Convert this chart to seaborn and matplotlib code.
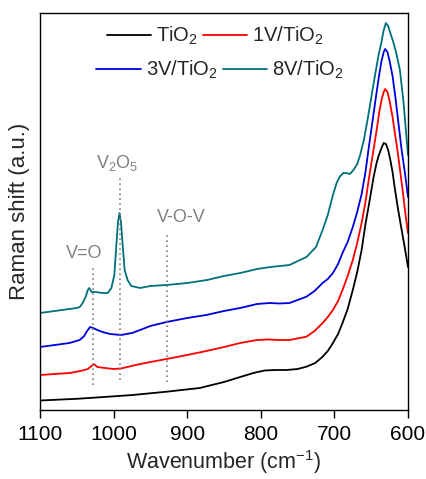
import matplotlib
matplotlib.use("Agg")
import matplotlib.pyplot as plt
import seaborn as sns
import pandas as pd

# ---- data ----
samples = ["TiO$\\mathregular{_2}$", "1V/TiO$\\mathregular{_2}$",
           "3V/TiO$\\mathregular{_2}$", "8V/TiO$\\mathregular{_2}$"]
colors = ["#000000", "#ff0000", "#0000dd", "#00707a"]

wn_tio2 = [1100, 1050, 1019, 974, 928, 883, 850, 828, 810, 795, 780, 765, 750, 738, 726,
           716, 709, 702, 695, 689, 682, 675, 669, 663, 658, 652, 647, 643, 640, 636, 633,
           630, 627, 624, 621, 618, 614, 611, 605, 600]
int_tio2 = [9.5, 11.2, 12.7, 15, 18.3, 22, 28, 33, 37, 39.5, 40, 40, 41, 43.3, 47,
            53.3, 59, 67, 76, 87, 101, 120, 138, 160, 185, 210, 232, 246, 254, 262, 267,
            266, 260, 250, 238, 222, 203, 190, 165, 143]

wn_1v = [1100, 1080, 1060, 1045, 1035, 1030, 1027, 1022, 1012, 1000, 990, 970, 950, 928,
         900, 874, 850, 828, 805, 790, 775, 761, 738, 727, 716, 709, 702, 695, 689, 682,
         675, 669, 663, 658, 654, 650, 646, 642, 639, 636, 633, 631, 628, 625, 621, 618,
         614, 611, 607, 604, 600]
int_1v = [35, 36, 37, 39, 41, 44, 46, 43, 42, 41, 41.5, 45, 48, 51,
          55, 59, 63, 67, 70, 70.5, 70, 70, 73.3, 79, 87, 93, 100, 109, 120, 134,
          150, 167, 187, 207, 227, 246, 264, 283, 298, 310, 318, 321, 318, 309, 293, 278,
          258, 241, 218, 199, 177]

wn_3v = [1100, 1080, 1060, 1046, 1040, 1036, 1032, 1028, 1022, 1015, 1005, 990, 975, 964,
         950, 928, 900, 874, 850, 828, 805, 788, 775, 761, 738, 727, 716, 709, 702, 695,
         689, 682, 675, 669, 663, 658, 653, 648, 643, 639, 636, 633, 631, 628, 625, 621,
         617, 613, 609, 604, 600]
int_3v = [63, 65, 67, 70, 74, 79, 83, 82, 80, 78, 76, 75, 77, 80,
          84, 88, 92, 95, 99, 102, 106, 107, 106.5, 107, 113.3, 119, 127, 131, 137, 146,
          157, 168, 183, 198, 216, 237, 264, 290, 316, 336, 349, 358, 361, 358, 349, 334,
          312, 287, 262, 236, 213]

wn_8v = [1100, 1080, 1060, 1050, 1046, 1042, 1038, 1035, 1033, 1030, 1024, 1016, 1008,
         1003, 999, 996, 994, 992, 990, 988, 985, 981, 976, 964, 950, 928, 900, 873, 850,
         828, 805, 787, 761, 738, 725, 716, 709, 702, 697, 693, 688, 684, 679, 674, 669,
         665, 660, 655, 650, 645, 640, 636, 633, 630, 627, 624, 620, 616, 611, 606, 602,
         600]
int_8v = [97, 99, 101, 102, 103, 107, 113, 120, 122, 118, 118, 117, 117,
          122, 135, 168, 188, 197, 188, 168, 140, 130, 124, 122, 124, 125, 127, 130, 134,
          137, 141, 143, 145, 153, 163, 180, 195, 215, 227, 233, 237, 237, 236, 240, 246,
          255, 270, 290, 312, 334, 355, 368, 380, 387, 384, 377, 368, 357, 340, 307, 272,
          255]

band_labels = ["V=O", "V$\\mathregular{_2}$O$\\mathregular{_5}$", "V-O-V"]
band_wn = [1028, 991, 928]

# ---- build long table ----
frames = []
for name, wn, val in zip(samples, [wn_tio2, wn_1v, wn_3v, wn_8v],
                         [int_tio2, int_1v, int_3v, int_8v]):
    frames.append(pd.DataFrame({"wn": wn, "val": val, "sample": name}))
df = pd.concat(frames, ignore_index=True)

sns.set_style("ticks")
plt.rcParams["font.family"] = ["Liberation Sans", "DejaVu Sans"]
plt.rcParams["mathtext.fontset"] = "custom"
plt.rcParams["mathtext.rm"] = "Liberation Sans"
plt.rcParams["mathtext.it"] = "Liberation Sans:italic"
plt.rcParams["mathtext.bf"] = "Liberation Sans:bold"

fig = plt.figure(figsize=(4.26, 4.79), dpi=100)
ax = fig.add_axes([40 / 426, 1 - 410 / 479, 368 / 426, 397 / 479])

sns.lineplot(data=df, x="wn", y="val", hue="sample", hue_order=samples,
             palette=dict(zip(samples, colors)), sort=False, estimator=None,
             linewidth=1.3, legend=False, ax=ax)

# band markers
line_tops = [145, 233, 177]
line_bottoms = [25, 30, 28]
text_y = [151.7, 241.7, 188.3]
text_x = [1040, 995, 908]
for lab, w, top, bot, tx, ty in zip(band_labels, band_wn, line_tops, line_bottoms,
                                    text_x, text_y):
    ax.plot([w, w], [bot, top], color="#808080", linestyle=(0, (1, 2)), linewidth=1.2)
    ax.text(tx, ty, lab, color="#808080", fontsize=13, ha="center", va="baseline")

ax.set_xlim(1100, 600)
ax.set_ylim(0, 397)
ax.set_xticks([1100, 1000, 900, 800, 700, 600])
ax.set_yticks([])
ax.tick_params(axis="x", direction="out", length=6, width=1.0, labelsize=15, pad=5,
               colors="black")
for s in ax.spines.values():
    s.set_visible(True)
    s.set_linewidth(1.0)
    s.set_color("black")

ax.set_xlabel("Wavenumber (cm$\\mathregular{^{-1}}$)", fontsize=15.5, labelpad=3)
ax.set_ylabel("Raman shift (a.u.)", fontsize=16)
ax.yaxis.set_label_coords(-0.027, 0.5)

handles = ax.get_lines()[:4]
leg_kw = dict(ncol=2, loc="center", frameon=False, fontsize=14.5, handlelength=2.2,
              handletextpad=0.25, columnspacing=0.25, borderpad=0.0,
              bbox_transform=fig.transFigure)
leg1 = ax.legend(handles[0:2], samples[0:2], bbox_to_anchor=(215.5 / 426, 1 - 36 / 479),
                 **leg_kw)
ax.add_artist(leg1)
leg2 = ax.legend(handles[2:4], samples[2:4], bbox_to_anchor=(220 / 426, 1 - 70 / 479),
                 **leg_kw)

fig.savefig("out.png", dpi=100)
